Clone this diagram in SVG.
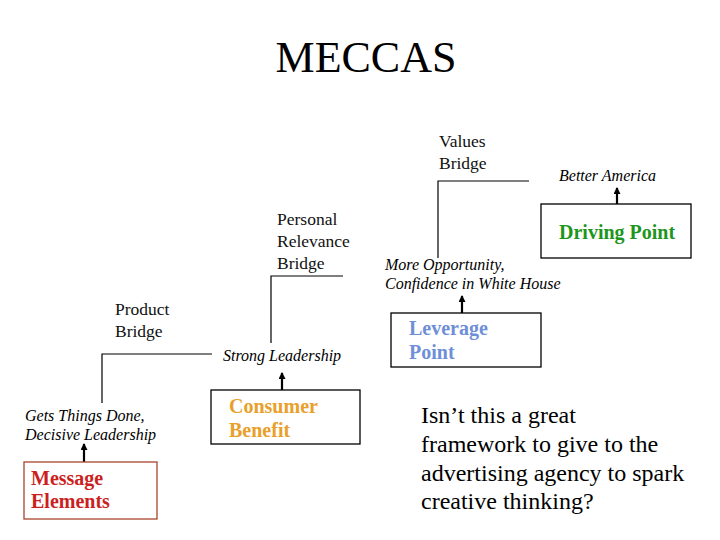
<svg xmlns="http://www.w3.org/2000/svg" width="720" height="540" viewBox="0 0 720 540">
<defs>
<marker id="ah" viewBox="0 0 7 7" refX="6" refY="3.5" markerWidth="7" markerHeight="7" markerUnits="userSpaceOnUse" orient="auto">
<path d="M0,0 L7,3.5 L0,7 Z" fill="#000"/>
</marker>
<style>
.title{font-family:"Liberation Serif","Times New Roman",serif;font-size:44px;fill:#000}
.lbl{font-family:"Liberation Serif","Times New Roman",serif;font-size:17.5px;fill:#111}
.it{font-family:"Liberation Serif","Times New Roman",serif;font-size:16px;font-style:italic;fill:#000}
.bt{font-family:"Liberation Serif","Times New Roman",serif;font-size:20px;font-weight:bold}
.q{font-family:"Liberation Serif","Times New Roman",serif;font-size:24px;fill:#000}
.box{fill:#fff;stroke:#000;stroke-width:1.3}
.ln{fill:none;stroke:#000;stroke-width:1.2}
.ar{stroke:#000;stroke-width:2.2;fill:none}
</style>
</defs>
<rect width="720" height="540" fill="#fff"/>
<text class="title" x="366" y="72" text-anchor="middle">MECCAS</text>

<g id="connectors">
<path class="ln" d="M529,181 H438 V258"/>
<path class="ln" d="M343,276 H271 V343"/>
<path class="ln" d="M212,354 H102 V403"/>
<line class="ar" x1="617" y1="204" x2="617" y2="188" marker-end="url(#ah)"/>
<line class="ar" x1="462" y1="313" x2="462" y2="296" marker-end="url(#ah)"/>
<line class="ar" x1="282" y1="390" x2="282" y2="373" marker-end="url(#ah)"/>
<line class="ar" x1="84" y1="462" x2="84" y2="444" marker-end="url(#ah)"/>
</g>

<g id="values-bridge">
<text class="lbl" x="439" y="147">Values</text>
<text class="lbl" x="439" y="169">Bridge</text>
</g>
<g id="better-america">
<text class="it" x="559" y="181">Better America</text>
</g>
<g id="driving-point">
<rect class="box" x="541" y="204" width="150" height="54"/>
<text class="bt" x="559" y="239" fill="#1E961E">Driving Point</text>
</g>
<g id="personal-relevance-bridge">
<text class="lbl" x="277" y="225">Personal</text>
<text class="lbl" x="277" y="247">Relevance</text>
<text class="lbl" x="277" y="269">Bridge</text>
</g>
<g id="more-opportunity">
<text class="it" x="385" y="270">More Opportunity,</text>
<text class="it" x="385" y="289">Confidence in White House</text>
</g>
<g id="leverage-point">
<rect class="box" x="391" y="313" width="150" height="54"/>
<text class="bt" x="409" y="335" fill="#6F8FD8">Leverage</text>
<text class="bt" x="409" y="359" fill="#6F8FD8">Point</text>
</g>
<g id="product-bridge">
<text class="lbl" x="115" y="315">Product</text>
<text class="lbl" x="115" y="337">Bridge</text>
</g>
<g id="strong-leadership">
<text class="it" x="223" y="361">Strong Leadership</text>
</g>
<g id="consumer-benefit">
<rect class="box" x="211" y="390" width="149" height="54"/>
<text class="bt" x="229" y="413" fill="#E8A02A">Consumer</text>
<text class="bt" x="229" y="437" fill="#E8A02A">Benefit</text>
</g>
<g id="gets-things-done">
<text class="it" x="25" y="421">Gets Things Done,</text>
<text class="it" x="25" y="440">Decisive Leadership</text>
</g>
<g id="message-elements">
<rect class="box" x="24" y="462" width="133" height="57" style="stroke:#A8442E"/>
<text class="bt" x="31" y="485" fill="#CC1F1F">Message</text>
<text class="bt" x="31" y="508" fill="#CC1F1F">Elements</text>
</g>

<g id="question">
<text class="q" x="421" y="423">Isn’t this a great</text>
<text class="q" x="421" y="452">framework to give to the</text>
<text class="q" x="421" y="481">advertising agency to spark</text>
<text class="q" x="421" y="509">creative thinking?</text>
</g>
</svg>
